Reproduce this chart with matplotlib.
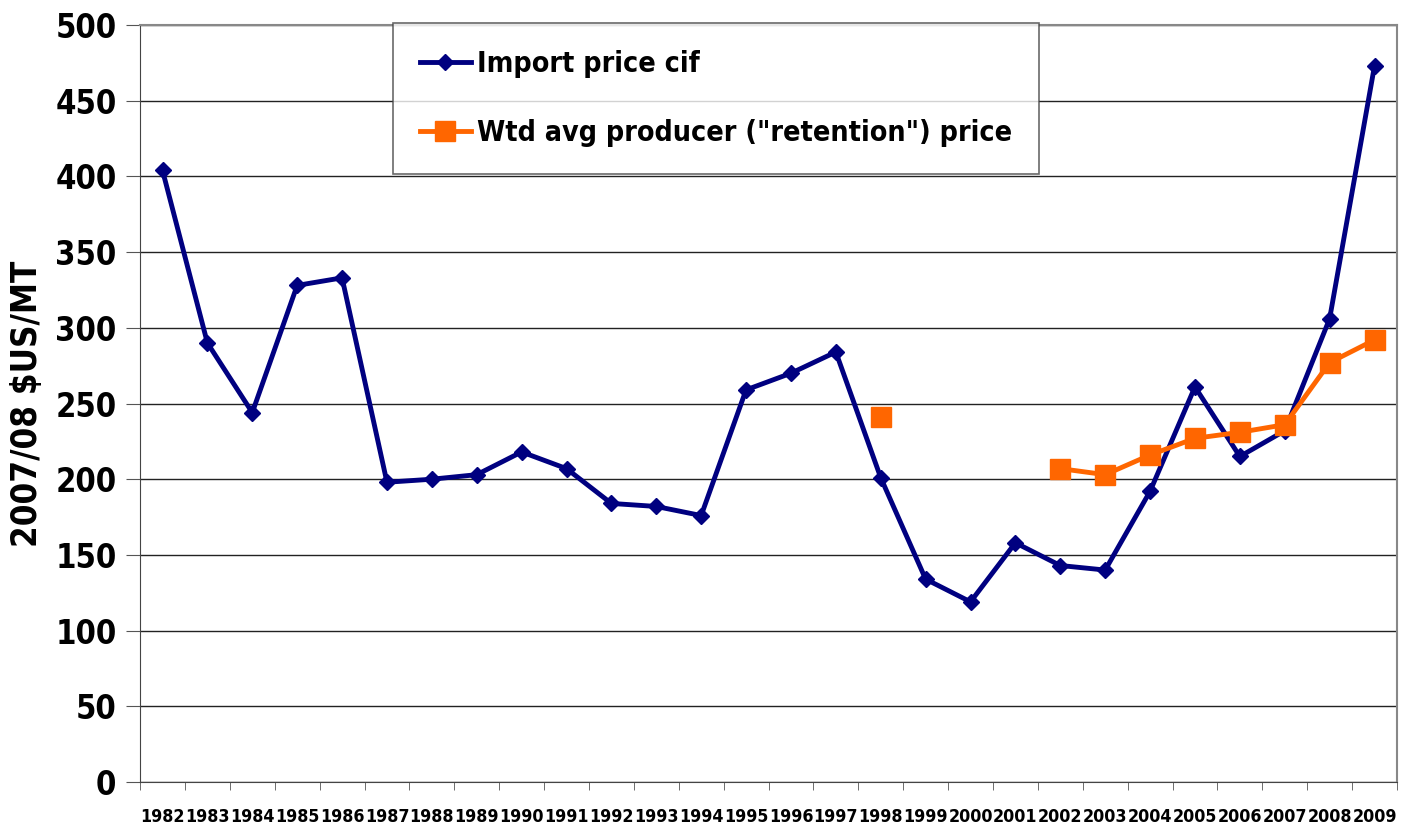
import numpy as np
import matplotlib
matplotlib.use("Agg")
import matplotlib.pyplot as plt
from matplotlib import font_manager

# condensed bold font if one is installed, like Arial Narrow in the original
fp = font_manager.FontProperties(family="DejaVu Sans", weight="bold",
                                 stretch="condensed")
narrow = "Condensed" in font_manager.findfont(fp)
if narrow:
    plt.rcParams["font.family"] = ["DejaVu Sans"]
    plt.rcParams["font.stretch"] = "condensed"
    xsize = 12.8
else:
    plt.rcParams["font.family"] = ["Liberation Sans", "DejaVu Sans"]
    xsize = 14
plt.rcParams["font.weight"] = "bold"

years = [str(y) for y in range(1982, 2010)]
import_price = [404, 290, 244, 328, 333, 198, 200, 203, 218, 207, 184, 182, 176,
                259, 270, 284, 201, 134, 119, 158, 143, 140, 192, 261, 215, 232,
                306, 473]
retention = [np.nan] * 16 + [241, np.nan, np.nan, np.nan,
                             207, 203, 216, 227, 231, 236, 277, 292]

fig = plt.figure(figsize=(14.02, 8.33), dpi=100)
ax = fig.add_axes([0.0999, 0.0612, 0.8965, 0.9088])

x = np.arange(len(years))
ax.plot(x, import_price, color="#000080", lw=3.5, marker="D", ms=8,
        label="Import price cif")
ax.plot(x, retention, color="#FF6600", lw=3.5, marker="s", ms=14,
        label='Wtd avg producer ("retention") price')

ax.set_xlim(-0.5, len(years) - 0.5)
ax.set_ylim(0, 500)
ax.set_yticks(range(0, 501, 50))
ax.yaxis.grid(True, color="#222222", lw=1)
ax.set_axisbelow(True)

ax.set_xticks(x)
ax.set_xticklabels(years, fontsize=xsize, fontweight="bold")
ax.set_xticks(np.arange(-0.5, len(years)), minor=True)
ax.tick_params(axis="x", which="major", length=0, pad=19)
ax.tick_params(axis="x", which="minor", length=6, color="#555555")
ax.tick_params(axis="y", length=10, labelsize=23.5, pad=7, color="#555555")
for lab in ax.get_yticklabels():
    lab.set_fontweight("bold")

ax.set_ylabel("2007/08 $US/MT", fontsize=25, fontweight="bold", labelpad=8)

for s in ["left", "bottom"]:
    ax.spines[s].set_color("#444444")
for s in ["top", "right"]:
    ax.spines[s].set_color("#888888")
    ax.spines[s].set_linewidth(1.5)

leg = ax.legend(loc="upper left", bbox_to_anchor=(0.201, 1.003), fontsize=20.5,
                frameon=True, fancybox=False, edgecolor="#444444",
                handlelength=1.8, handletextpad=0.2, borderpad=0.95,
                labelspacing=1.45, borderaxespad=0)
leg.get_frame().set_linewidth(1.2)
for t in leg.get_texts():
    t.set_fontweight("bold")

fig.savefig("out.png", dpi=100)
